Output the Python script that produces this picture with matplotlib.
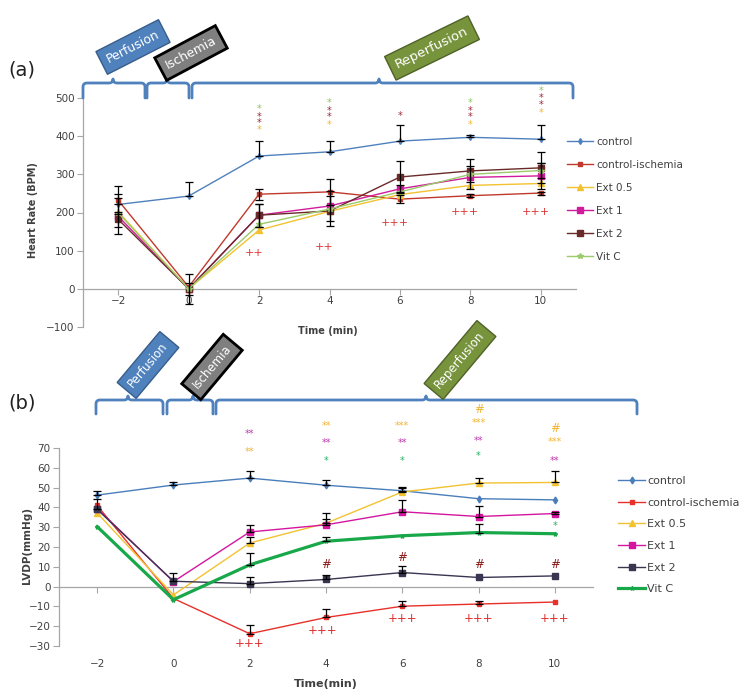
import numpy as np
import matplotlib.pyplot as plt
from matplotlib.path import Path
from matplotlib.patches import PathPatch

# ---- data -------------------------------------------------------------
times = [-2, 0, 2, 4, 6, 8, 10]
groups = ['control', 'control-ischemia', 'Ext 0.5', 'Ext 1', 'Ext 2', 'Vit C']

# (a) heart rate, BPM
hr_control = [221, 243, 348, 359, 387, 397, 392]
hr_isch = [232, 5, 248, 254, 235, 244, 251]
hr_ext05 = [202, 0, 154, 203, 247, 271, 276]
hr_ext1 = [190, 0, 193, 217, 262, 292, 296]
hr_ext2 = [182, 0, 193, 204, 293, 309, 317]
hr_vitc = [199, 0, 169, 209, 254, 300, 310]

hr_control_err = [28, 37, 39, 28, 41, 6, 36]
hr_isch_err = [37, 0, 14, 34, 10, 4, 4]
hr_ext05_err = [0, 0, 0, 0, 0, 0, 0]
hr_ext1_err = [47, 15, 30, 39, 9, 31, 35]
hr_ext2_err = [20, 40, 30, 40, 42, 30, 41]
hr_vitc_err = [0, 0, 0, 0, 0, 0, 20]

# (b) LVDP, mmHg
lv_control = [46.2, 51.3, 54.8, 51.2, 48.4, 44.4, 43.8]
lv_isch = [41, -6, -23.8, -15.6, -9.9, -8.8, -7.8]
lv_ext05 = [37.2, -4.2, 22, 32, 47.8, 52.3, 52.6]
lv_ext1 = [39.4, 2.5, 27.6, 31.2, 37.8, 35.4, 36.9]
lv_ext2 = [39, 2.7, 1.5, 3.6, 7.1, 4.6, 5.4]
lv_vitc = [30.3, -6.6, 11, 22.9, 25.7, 27.3, 26.7]

lv_control_err = [2, 1.5, 3.4, 2.8, 1.8, 0, 0]
lv_isch_err = [0, 0, 4.6, 4.5, 2.6, 1.5, 0]
lv_ext05_err = [0, 0, 3, 5.2, 2, 2.4, 6]
lv_ext1_err = [0, 0, 3.4, 3, 6, 5.4, 0.8]
lv_ext2_err = [5, 4, 3.1, 2.5, 3.1, 0, 0]
lv_vitc_err = [0, 0, 6, 2.2, 0, 4.3, 0]

# significance marks (x, y, text, colour key)
sig_a_x = [2, 2, 2, 2, 4, 4, 4, 4, 6, 8, 8, 8, 8, 10, 10, 10, 10,
           1.85, 3.85, 5.85, 7.85, 9.85]
sig_a_y = [471, 451, 434, 415, 486, 467, 450, 430, 452, 486, 467, 450, 430,
           519, 500, 481, 462, 93, 110, 173, 202, 202]
sig_a_txt = ['*'] * 17 + ['++', '++', '+++', '+++', '+++']
sig_a_col = ['g', 'd', 'd', 'y', 'g', 'd', 'd', 'y', 'd', 'g', 'd', 'd', 'y',
             'g', 'd', 'd', 'y', 'r', 'r', 'r', 'r', 'r']

sig_b_x = [2, 2, 4, 4, 4, 6, 6, 6, 8, 8, 8, 8, 10, 10, 10, 10,
           4, 6, 8, 10, 2, 3.9, 6, 8, 10]
sig_b_y = [77, 68, 81, 72.6, 63.5, 81, 72.6, 63.5, 89.5, 82.7, 73.4, 66,
           79.6, 73, 63.6, 30.5, 11.4, 14.7, 11.4, 11.4,
           -28.8, -22, -16, -16, -16]
sig_b_txt = ['**', '**', '**', '**', '*', '***', '**', '*', '#', '***', '**', '*',
             '#', '***', '**', '*', '#', '#', '#', '#',
             '+++', '+++', '+++', '+++', '+++']
sig_b_col = ['m', 'y', 'y', 'm', 'g', 'y', 'm', 'g', 'y', 'y', 'm', 'g',
             'y', 'y', 'm', 'g', 'd', 'd', 'd', 'd', 'r', 'r', 'r', 'r', 'r']

# ---- styles -----------------------------------------------------------
W, H = 746, 697
axis_col = '#A6A6A6'
txt_col = '#404040'

colors_a = ['#4F81BD', '#C0392B', '#F2C230', '#D01C9C', '#6B2A2A', '#9BCB6B']
colors_b = ['#4A7EBB', '#E8302A', '#F2C230', '#D4159F', '#3A3550', '#18A84A']
markers = ['d', 's', '^', 's', 's', '*']
msize_a = [3, 3.5, 4.5, 4.5, 4.5, 4]
msize_b = [3.5, 3, 4.5, 5, 5, 3]
lw_b = [1, 1, 1, 1, 1, 2.3]
sig_cols_a = {'g': '#8CC45A', 'd': '#9E2A3A', 'y': '#F2B630', 'r': '#E03030'}
sig_cols_b = {'g': '#2BAE66', 'd': '#8B1A1A', 'y': '#F2B632', 'm': '#C03BB0',
              'r': '#E03030'}

fig = plt.figure(figsize=(W / 100, H / 100), dpi=100)


def px_axes(l, r, t, b):
    return [l / W, 1 - b / H, (r - l) / W, (b - t) / H]


def style(ax, ylo, yhi, ystep, labelsize, pad):
    ax.set_xlim(-3, 11)
    ax.set_ylim(ylo, yhi)
    ax.set_xticks(times)
    ax.set_yticks(np.arange(ylo, yhi + ystep / 2, ystep))
    for s in ['top', 'right']:
        ax.spines[s].set_visible(False)
    ax.spines['bottom'].set_position(('data', 0))
    for s in ['left', 'bottom']:
        ax.spines[s].set_color(axis_col)
        ax.spines[s].set_linewidth(0.9)
    ax.tick_params(axis='both', color=axis_col, length=4, labelsize=labelsize,
                   labelcolor=txt_col)
    ax.tick_params(axis='y', pad=2)
    ax.tick_params(axis='x', pad=pad)
    ax.set_facecolor('none')


# ---- panel (a) --------------------------------------------------------
ax_a = fig.add_axes(px_axes(83, 576, 98, 327))
style(ax_a, -100, 500, 100, 7.5, 1.5)
hr_vals = [hr_control, hr_isch, hr_ext05, hr_ext1, hr_ext2, hr_vitc]
hr_errs = [hr_control_err, hr_isch_err, hr_ext05_err, hr_ext1_err, hr_ext2_err, hr_vitc_err]
handles_a = []
for i, name in enumerate(groups):
    ln, = ax_a.plot(times, hr_vals[i], color=colors_a[i], marker=markers[i],
                    ms=msize_a[i], lw=1, label=name, zorder=3)
    handles_a.append(ln)
    err = np.array(hr_errs[i], dtype=float)
    mask = err > 0
    xs = np.array(times)[mask]
    ys = np.array(hr_vals[i])[mask]
    # control only has the upper bar
    yerr = [np.zeros(mask.sum()), err[mask]] if i == 0 else err[mask]
    ax_a.errorbar(xs, ys, yerr=yerr, fmt='none', ecolor='black',
                  elinewidth=0.9, capsize=3, capthick=0.9, zorder=4)
for x, y, t, c in zip(sig_a_x, sig_a_y, sig_a_txt, sig_a_col):
    ax_a.text(x, y, t, color=sig_cols_a[c], ha='center', va='center',
              fontsize=7 if t == '*' else 8, clip_on=False)
ax_a.legend(handles_a, groups, loc='upper left',
            bbox_to_anchor=(567 / W, 1 - 137 / H), bbox_transform=fig.transFigure,
            frameon=False, fontsize=7.5, handlelength=2.5, handletextpad=0.3,
            labelspacing=1.25, borderpad=0, borderaxespad=0, labelcolor=txt_col)

# ---- panel (b) --------------------------------------------------------
ax_b = fig.add_axes(px_axes(59, 593, 448, 646))
style(ax_b, -30, 70, 10, 7.5, 48)
lv_vals = [lv_control, lv_isch, lv_ext05, lv_ext1, lv_ext2, lv_vitc]
lv_errs = [lv_control_err, lv_isch_err, lv_ext05_err, lv_ext1_err, lv_ext2_err, lv_vitc_err]
handles_b = []
for i, name in enumerate(groups):
    ln, = ax_b.plot(times, lv_vals[i], color=colors_b[i], marker=markers[i],
                    ms=msize_b[i], lw=lw_b[i], label=name, zorder=3)
    handles_b.append(ln)
    err = np.array(lv_errs[i], dtype=float)
    mask = err > 0
    ax_b.errorbar(np.array(times)[mask], np.array(lv_vals[i])[mask],
                  yerr=[np.zeros(mask.sum()), err[mask]],
                  fmt='none', ecolor='black', elinewidth=0.9, capsize=3,
                  capthick=0.9, zorder=4)
for x, y, t, c in zip(sig_b_x, sig_b_y, sig_b_txt, sig_b_col):
    ax_b.text(x, y, t, color=sig_cols_b[c], ha='center', va='center',
              fontsize=7 if '*' in t else 8.5, clip_on=False)
ax_b.legend(handles_b, groups, loc='upper left',
            bbox_to_anchor=(618 / W, 1 - 476 / H), bbox_transform=fig.transFigure,
            frameon=False, fontsize=8, handlelength=2.45, handletextpad=0.2,
            labelspacing=1.05, borderpad=0, borderaxespad=0, labelcolor=txt_col)

# ---- overlay: braces, phase boxes, labels (pixel coords) -------------
ov = fig.add_axes([0, 0, 1, 1], zorder=5)
ov.set_xlim(0, W)
ov.set_ylim(H, 0)
ov.axis('off')
ov.set_facecolor('none')


def brace(x0, x1, xt, y, h, r=4):
    verts = [(x0, y + h), (x0, y + r), (x0, y), (x0 + r, y), (xt - r, y),
             (xt, y), (xt, y - r), (xt, y), (xt + r, y), (x1 - r, y),
             (x1, y), (x1, y + r), (x1, y + h)]
    codes = [Path.MOVETO, Path.LINETO, Path.CURVE3, Path.CURVE3, Path.LINETO,
             Path.CURVE3, Path.CURVE3, Path.CURVE3, Path.CURVE3, Path.LINETO,
             Path.CURVE3, Path.CURVE3, Path.LINETO]
    ov.add_patch(PathPatch(Path(verts, codes), fc='none', ec='#4F81BD', lw=2,
                           capstyle='round', joinstyle='round'))


def phase_box(x, y, text, rot, fc, ec, fs, elw=1):
    ov.text(x, y, text, rotation=rot, rotation_mode='anchor', ha='center',
            va='center', color='white', fontsize=fs,
            bbox=dict(boxstyle='square,pad=0.5', fc=fc, ec=ec, lw=elw))


brace(83, 145, 113, 83, 15)
brace(147, 189, 167, 83, 15)
brace(192, 573, 379, 83, 15)
brace(96, 163, 128, 400, 14)
brace(167, 213, 193, 400, 14)
brace(216, 637, 426, 400, 14)

phase_box(133, 47, 'Perfusion', 27, '#4F81BD', '#385D8A', 9)
phase_box(191, 53, 'Ischemia', 28, '#7F7F7F', 'black', 9, 2)
phase_box(432, 48, 'Reperfusion', 26, '#77933C', '#4F6228', 9.5)
phase_box(148, 365, 'Perfusion', 50, '#4F81BD', '#385D8A', 8.5)
phase_box(212, 367, 'Ischemia', 50, '#7F7F7F', 'black', 8.5, 2)
phase_box(460, 360, 'Reperfusion', 50, '#77933C', '#4F6228', 8.5)

ov.text(22, 70, '(a)', fontsize=14, ha='center', va='center', color='#222222')
ov.text(22, 403, '(b)', fontsize=14, ha='center', va='center', color='#222222')
ov.text(33, 210, 'Heart Rate (BPM)', rotation=90, fontsize=7, fontweight='bold',
        ha='center', va='center', color=txt_col)
ov.text(328, 331, 'Time (min)', fontsize=7, fontweight='bold', ha='center',
        va='center', color=txt_col)
ov.text(27, 545, 'LVDP(mmHg)', rotation=90, fontsize=7.5, fontweight='bold',
        ha='center', va='center', color=txt_col)
ov.text(326, 684, 'Time(min)', fontsize=8, fontweight='bold', ha='center',
        va='center', color=txt_col)

fig.savefig('out.png', dpi=100)
